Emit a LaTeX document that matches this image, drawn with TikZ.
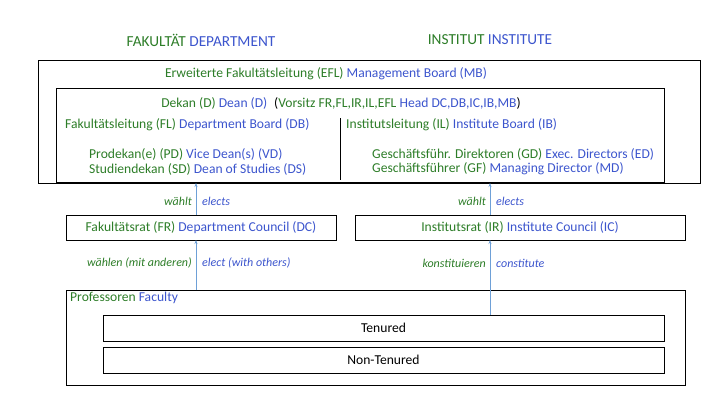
\documentclass[tikz,border=0pt]{standalone}
\usepackage{fontspec}
\setmainfont{Carlito}
\usetikzlibrary{arrows.meta}
\definecolor{gr}{RGB}{45,125,40}
\definecolor{bl}{RGB}{60,85,205}
\definecolor{ar}{RGB}{110,160,215}
\begin{document}
\begin{tikzpicture}[x=1pt,y=-1pt,
  box/.style={draw=black,line width=0.8pt},
  txt/.style={inner sep=0pt,font=\fontsize{13.6}{15}\selectfont},
  lab/.style={inner sep=0pt,font=\fontsize{12}{14}\selectfont\itshape},
  arr/.style={draw=ar,line width=0.7pt,-{Stealth[length=4pt,width=3pt]}}]
\useasboundingbox (0,0) rectangle (720,405);
\node[txt,text=gr] (h1) at (201,40) {\fontsize{15.3}{17}\selectfont FAKULTÄT \textcolor{bl}{DEPARTMENT}};
\node[txt,text=gr] (h2) at (490,40) {\fontsize{15.3}{17}\selectfont INSTITUT \textcolor{bl}{INSTITUTE}};
\node[box,minimum width=662,minimum height=123,inner sep=0pt] (outer) at (369,121.5) {};
\node[box,minimum width=608,minimum height=94,inner sep=0pt] (inner) at (360,135) {};
\draw[line width=0.6pt] (340,118) coordinate (d1) -- (340,180) coordinate (d2);
\node[txt,text=gr] (efl) at (326,74) {Erweiterte Fakultätsleitung (EFL) \textcolor{bl}{Management Board (MB)}};
\node[txt,text=gr] (dean) at (341,103) {Dekan (D) \textcolor{bl}{Dean (D)}\enspace\textcolor{black}{(}Vorsitz FR,FL,IR,IL,EFL \textcolor{bl}{Head DC,DB,IC,IB,MB}\textcolor{black}{)}};
\node[txt,text=gr,anchor=west] (fl) at (65,125) {Fakultätsleitung (FL) \textcolor{bl}{Department Board (DB)}};
\node[txt,text=gr,anchor=west] (il) at (346,125) {Institutsleitung (IL) \textcolor{bl}{Institute Board (IB)}};
\node[txt,text=gr,anchor=west] (pd) at (89,154) {Prodekan(e) (PD) \textcolor{bl}{Vice Dean(s) (VD)}};
\node[txt,text=gr,anchor=west] (sd) at (89,169) {Studiendekan (SD) \textcolor{bl}{Dean of Studies (DS)}};
\node[txt,text=gr,anchor=west] (gd) at (372,154) {Geschäftsführ. Direktoren (GD) \textcolor{bl}{Exec. Directors (ED)}};
\node[txt,text=gr,anchor=west] (gf) at (372,169) {Geschäftsführer (GF) \textcolor{bl}{Managing Director (MD)}};
\node[box,minimum width=270,minimum height=25,inner sep=0pt,txt,text=gr] (fr) at (201,227.5) {Fakultätsrat (FR) \textcolor{bl}{Department Council (DC)}};
\node[box,minimum width=330,minimum height=25,inner sep=0pt,txt,text=gr] (ir) at (520,227.5) {Institutsrat (IR) \textcolor{bl}{Institute Council (IC)}};
\node[box,minimum width=619,minimum height=95,inner sep=0pt] (prof) at (375.5,337.5) {};
\node[txt,text=gr,anchor=west] (pl) at (70,298) {Professoren \textcolor{bl}{Faculty}};
\node[box,minimum width=561,minimum height=26,inner sep=0pt,txt] (ten) at (383.5,328) {Tenured};
\node[box,minimum width=561,minimum height=26,inner sep=0pt,txt] (non) at (383.5,360) {Non-Tenured};
\coordinate (a1) at (196,290); \coordinate (a2) at (196,240);
\coordinate (a3) at (196,215); \coordinate (a4) at (196,183);
\coordinate (b1) at (490,315); \coordinate (b2) at (490,240);
\coordinate (b3) at (490,215); \coordinate (b4) at (490,183);
\draw[arr] (a1) -- (a2); \draw[arr] (a3) -- (a4);
\draw[arr] (b1) -- (b2); \draw[arr] (b3) -- (b4);
\node[lab,text=gr,anchor=east] (l1) at (192,201) {wählt};
\node[lab,text=bl,anchor=west] (l2) at (202,201) {elects};
\node[lab,text=gr,anchor=east] (l3) at (192,263) {wählen (mit anderen)};
\node[lab,text=bl,anchor=west] (l4) at (202,263) {elect (with others)};
\node[lab,text=gr,anchor=east] (l5) at (486,201) {wählt};
\node[lab,text=bl,anchor=west] (l6) at (496,201) {elects};
\node[lab,text=gr,anchor=east] (l7) at (486,263) {konstituieren};
\node[lab,text=bl,anchor=west] (l8) at (496,263) {constitute};
\end{tikzpicture}
\end{document}
